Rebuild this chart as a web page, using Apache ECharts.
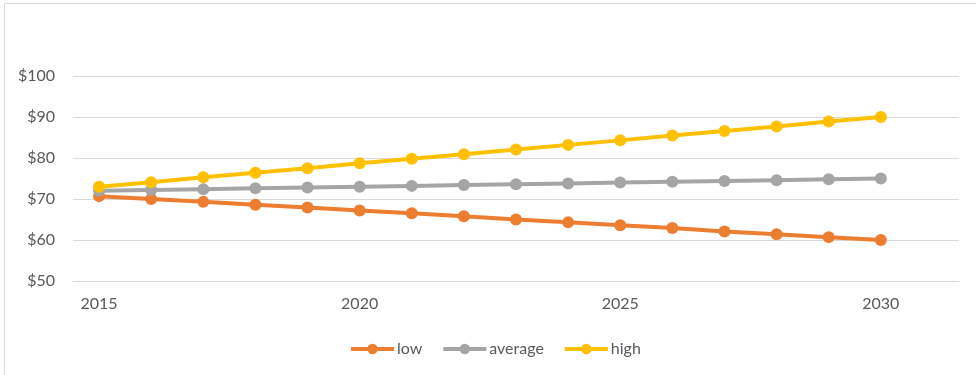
<!DOCTYPE html>
<html>
<head>
<meta charset="utf-8">
<script src="https://cdn.jsdelivr.net/npm/echarts@6/dist/echarts.min.js"></script>
<style>
  html, body { margin: 0; padding: 0; background: #fff; }
  #chart { width: 976px; height: 375px; }
</style>
</head>
<body>
<div id="chart"></div>
<script>
// Years on the category axis; the trailing year leaves room past the last point.
const years = ['2015','2016','2017','2018','2019','2020','2021','2022','2023','2024','2025','2026','2027','2028','2029','2030','2031'];
const labeledYears = ['2015', '2020', '2025', '2030'];

// Price scenarios per year
const low     = [70.7, 70.0, 69.3, 68.6, 67.9, 67.2, 66.5, 65.8, 65.0, 64.3, 63.6, 62.9, 62.1, 61.4, 60.7, 60.0];
const average = [72.0, 72.2, 72.4, 72.6, 72.8, 73.0, 73.2, 73.4, 73.6, 73.8, 74.0, 74.2, 74.4, 74.6, 74.8, 75.0];
const high    = [73.0, 74.1, 75.3, 76.4, 77.5, 78.7, 79.8, 80.9, 82.1, 83.2, 84.3, 85.5, 86.6, 87.7, 88.9, 90.0];

const FONT = 'Lato, "Open Sans", sans-serif';
const TEXT = '#595959';

function lineSeries(name, data, color) {
  return {
    name: name,
    type: 'line',
    data: data,
    symbol: 'circle',
    symbolSize: 12,
    showAllSymbol: true,
    color: color,
    lineStyle: { width: 4, color: color },
    itemStyle: { color: color },
    emphasis: { disabled: true },
    z: 2
  };
}

const chart = echarts.init(document.getElementById('chart'), null, { renderer: 'canvas' });
chart.setOption({
  animation: false,
  backgroundColor: '#ffffff',
  textStyle: { fontFamily: FONT },
  graphic: [{
    type: 'rect',
    silent: true,
    shape: { x: 4.5, y: 3.5, width: 1000, height: 400 },
    style: { fill: 'none', stroke: '#d9d9d9', lineWidth: 1 }
  }],
  grid: { left: 73, right: 17, top: 76, bottom: 94 },
  xAxis: {
    type: 'category',
    data: years,
    boundaryGap: true,
    axisLine: { show: true, lineStyle: { color: '#d9d9d9', width: 1 } },
    axisTick: { show: false },
    splitLine: { show: false },
    axisLabel: {
      interval: 0,
      formatter: v => labeledYears.includes(v) ? v : '',
      color: TEXT,
      fontFamily: FONT,
      fontSize: 16,
      margin: 15
    }
  },
  yAxis: {
    type: 'value',
    min: 50,
    max: 100,
    interval: 10,
    axisLine: { show: false },
    axisTick: { show: false },
    splitLine: { lineStyle: { color: '#d9d9d9', width: 1 } },
    axisLabel: {
      formatter: v => '$' + v,
      color: TEXT,
      fontFamily: FONT,
      fontSize: 16,
      margin: 18
    }
  },
  legend: {
    left: 349,
    top: 341,
    padding: 0,
    itemWidth: 43,
    itemHeight: 13,
    itemGap: 19,
    lineStyle: { width: 4 },
    textStyle: { color: TEXT, fontFamily: FONT, fontSize: 16, padding: [0, 0, 0, -2] },
    data: ['low', 'average', 'high']
  },
  series: [
    lineSeries('low', low, '#ED7D31'),
    lineSeries('average', average, '#A5A5A5'),
    lineSeries('high', high, '#FFC000')
  ]
});
</script>
</body>
</html>
